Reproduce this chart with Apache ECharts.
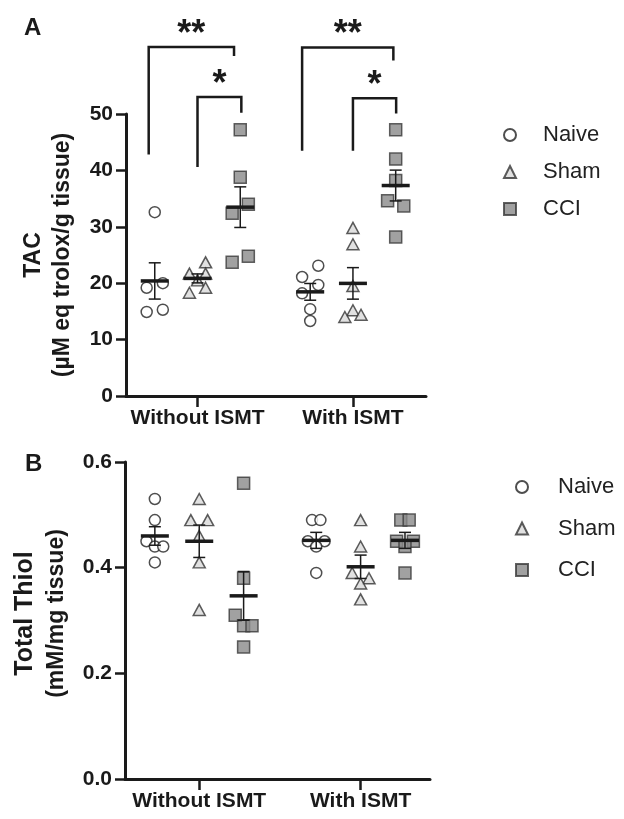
<!DOCTYPE html>
<html>
<head>
<meta charset="utf-8">
<script src="https://cdn.jsdelivr.net/npm/echarts@6/dist/echarts.min.js"></script>
<style>
  html, body { margin: 0; padding: 0; background: #fff; }
  #chart { width: 624px; height: 819px; }
</style>
</head>
<body>
<div id="chart"></div>
<script>
const categories = ['Without ISMT', 'With ISMT'];
const groups = ['Naive', 'Sham', 'CCI'];

// TAC values, [without ISMT, with ISMT]
const tacNaive = [[32.6, 19.2, 20.0, 14.9, 15.3], [21.1, 23.1, 19.7, 18.2, 15.4, 13.3]];
const tacSham = [[21.7, 20.5, 23.7, 21.7, 18.3, 19.2], [29.8, 26.9, 19.5, 15.2, 14.0, 14.4]];
const tacCci = [[47.2, 38.8, 34.0, 32.4, 23.7, 24.8], [47.2, 42.0, 38.2, 34.6, 33.7, 28.2]];

// Total thiol values, [without ISMT, with ISMT]
const thiolNaive = [[0.53, 0.49, 0.45, 0.44, 0.44, 0.41], [0.49, 0.49, 0.45, 0.45, 0.44, 0.39]];
const thiolSham = [[0.53, 0.49, 0.49, 0.46, 0.41, 0.32], [0.49, 0.44, 0.39, 0.38, 0.37, 0.34]];
const thiolCci = [[0.56, 0.38, 0.31, 0.29, 0.29, 0.25], [0.49, 0.49, 0.45, 0.45, 0.44, 0.39]];

// horizontal jitter of each dot (in dot widths)
const tacNaiveJit = [[0, -1, 1, -1, 1], [-1, 1, 1, -1, 0, 0]];
const tacShamJit = [[-1, 0, 1, 1, -1, 1], [0, 0, 0, 0, -1, 1]];
const tacCciJit = [[0, 0, 1, -1, -1, 1], [0, 0, 0, -1, 1, 0]];
const thiolNaiveJit = [[0, 0, -1, 0, 1, 0], [-0.5, 0.5, -1, 1, 0, 0]];
const thiolShamJit = [[0, -1, 1, 0, 0, 0], [0, 0, -1, 1, 0, 0]];
const thiolCciJit = [[0, 0, -1, 0, 1, 0], [-0.5, 0.5, -1, 1, 0, 0]];

// significance brackets on TAC: [x left, x right, top, left foot, right foot]
const tacBrackets = [
  [0.686, 1.235, 61.9, 42.8, 60.3],
  [1.0, 1.282, 53.0, 40.6, 50.2],
  [1.673, 2.26, 61.8, 43.5, 59.5],
  [2.0, 2.278, 52.8, 43.5, 50.1]
];
const tacStars = ['**', '*', '**', '*'];

const condPos = [1, 2];
const groupOffset = [-0.275, 0, 0.275];
const jitterStep = 0.052;

const font = "'Liberation Sans', Arial, sans-serif";
const ink = '#1a1a1a';

function dots(values, jit, g) {
  const out = [];
  values.forEach((cond, c) => {
    cond.forEach((v, i) => out.push([condPos[c] + groupOffset[g] + jit[c][i] * jitterStep, v]));
  });
  return out;
}

function meanSem(arr) {
  const n = arr.length;
  const m = arr.reduce((a, b) => a + b, 0) / n;
  const sd = Math.sqrt(arr.reduce((a, b) => a + (b - m) * (b - m), 0) / (n - 1));
  return [m, sd / Math.sqrt(n)];
}

function summary(sets) {
  const out = [];
  sets.forEach((vals, g) => {
    vals.forEach((cond, c) => {
      const s = meanSem(cond);
      out.push([condPos[c] + groupOffset[g], s[0], s[1]]);
    });
  });
  return out;
}

function renderMeanSem(params, api) {
  const x = api.value(0), m = api.value(1), s = api.value(2);
  const c = api.coord([x, m]);
  const hi = api.coord([x, m + s]);
  const lo = api.coord([x, m - s]);
  const thin = { stroke: ink, lineWidth: 1.5 };
  return {
    type: 'group',
    children: [
      { type: 'line', shape: { x1: c[0], y1: hi[1], x2: c[0], y2: lo[1] }, style: thin },
      { type: 'line', shape: { x1: c[0] - 6, y1: hi[1], x2: c[0] + 6, y2: hi[1] }, style: thin },
      { type: 'line', shape: { x1: c[0] - 6, y1: lo[1], x2: c[0] + 6, y2: lo[1] }, style: thin },
      { type: 'line', shape: { x1: c[0] - 14, y1: c[1], x2: c[0] + 14, y2: c[1] }, style: { stroke: ink, lineWidth: 3.5 } }
    ]
  };
}

function renderBracket(params, api) {
  const x1 = api.value(0), x2 = api.value(1), yt = api.value(2);
  const pl = api.coord([x1, api.value(3)]);
  const plt = api.coord([x1, yt]);
  const prt = api.coord([x2, yt]);
  const pr = api.coord([x2, api.value(4)]);
  return {
    type: 'group',
    children: [
      { type: 'polyline', shape: { points: [pl, plt, prt, pr] }, style: { stroke: ink, lineWidth: 2.5, fill: null } },
      {
        type: 'text', x: (plt[0] + prt[0]) / 2, y: plt[1] - 12,
        style: { text: tacStars[params.dataIndex], fontSize: 36, fontWeight: 'bold', fontFamily: font, fill: ink, align: 'center', verticalAlign: 'middle' }
      }
    ]
  };
}

const markerStyles = [
  { symbol: 'circle', symbolSize: 11, itemStyle: { color: '#ffffff', borderColor: '#222', borderWidth: 1.5 } },
  { symbol: 'triangle', symbolSize: [12, 11], itemStyle: { color: '#d9d9d9', borderColor: '#333', borderWidth: 1.5 } },
  { symbol: 'rect', symbolSize: 12, itemStyle: { color: '#8a8a8a', borderColor: '#3a3a3a', borderWidth: 1.5 } }
];

function scatterSeries(panel, sets, jits) {
  return sets.map((vals, g) => Object.assign({
    name: groups[g],
    type: 'scatter',
    xAxisIndex: panel,
    yAxisIndex: panel,
    z: 3,
    silent: true,
    data: dots(vals, jits[g], g)
  }, markerStyles[g]));
}

function xAxisFor(panel, min, max) {
  return {
    type: 'value', gridIndex: panel, min: min, max: max,
    axisLine: { show: true, onZero: false, lineStyle: { color: ink, width: 3 } },
    axisTick: { show: true, customValues: condPos, length: 11, lineStyle: { color: ink, width: 2.5 } },
    axisLabel: {
      customValues: condPos, margin: 12, fontSize: 21, fontWeight: 'bold', fontFamily: font, color: ink,
      formatter: v => categories[Math.round(v) - 1]
    },
    splitLine: { show: false }
  };
}

function yAxisFor(panel, max, interval, name, rich, gap, pad, fmt) {
  return {
    type: 'value', gridIndex: panel, min: 0, max: max, interval: interval,
    axisLine: { show: true, lineStyle: { color: ink, width: 3 } },
    axisTick: { show: true, length: 10, lineStyle: { color: ink, width: 2.5 } },
    axisLabel: { margin: 13, fontSize: 21, fontWeight: 'bold', fontFamily: font, color: ink, formatter: fmt },
    splitLine: { show: false },
    name: name, nameLocation: 'middle', nameRotate: 90, nameGap: gap,
    nameTextStyle: { rich: rich, padding: pad, fontFamily: font }
  };
}

function legendFor(left, top, gap, padLeft) {
  return {
    data: groups, orient: 'vertical', left: left, top: top,
    itemWidth: 12, itemHeight: 12, itemGap: gap, selectedMode: false,
    textStyle: { fontSize: 22, fontFamily: font, color: '#222', lineHeight: 22, padding: [0, 0, 0, padLeft] }
  };
}

const chart = echarts.init(document.getElementById('chart'), null, { renderer: 'canvas' });
chart.setOption({
  animation: false,
  backgroundColor: '#fff',
  graphic: [
    { type: 'text', left: 24, top: 16, style: { text: 'A', fontSize: 24, fontWeight: 'bold', fontFamily: font, fill: ink } },
    { type: 'text', left: 25, top: 452, style: { text: 'B', fontSize: 24, fontWeight: 'bold', fontFamily: font, fill: ink } }
  ],
  legend: [legendFor(498, 119, 15, 22), legendFor(510, 471, 19.5, 25)],
  grid: [
    { left: 126, top: 114, width: 300, height: 282, outerBoundsMode: 'none' },
    { left: 125, top: 462, width: 305, height: 317, outerBoundsMode: 'none' }
  ],
  xAxis: [xAxisFor(0, 0.54, 2.47), xAxisFor(1, 0.54, 2.43)],
  yAxis: [
    yAxisFor(0, 50, 10, '{a|TAC}\n{b|(µM eq trolox/g tissue)}', {
      a: { fontSize: 23, fontWeight: 'bold', fontFamily: font, color: ink, lineHeight: 29 },
      b: { fontSize: 23, fontWeight: 'bold', fontFamily: font, color: ink, lineHeight: 29 }
    }, 49, [0, 0, 0, 0], v => v),
    yAxisFor(1, 0.6, 0.2, '{a|Total Thiol}\n{b|(mM/mg tissue)}', {
      a: { fontSize: 25, fontWeight: 'bold', fontFamily: font, color: ink, lineHeight: 32 },
      b: { fontSize: 23, fontWeight: 'bold', fontFamily: font, color: ink, lineHeight: 32 }
    }, 52, [0, 0, 0, 14], v => v.toFixed(1))
  ],
  series: [
    ...scatterSeries(0, [tacNaive, tacSham, tacCci], [tacNaiveJit, tacShamJit, tacCciJit]),
    {
      type: 'custom', xAxisIndex: 0, yAxisIndex: 0, z: 4, silent: true,
      renderItem: renderMeanSem, encode: { x: 0, y: [1, 2] },
      data: summary([tacNaive, tacSham, tacCci])
    },
    {
      type: 'custom', xAxisIndex: 0, yAxisIndex: 0, z: 4, silent: true, clip: false,
      renderItem: renderBracket, encode: { x: [0, 1], y: [2, 3, 4] },
      data: tacBrackets
    },
    ...scatterSeries(1, [thiolNaive, thiolSham, thiolCci], [thiolNaiveJit, thiolShamJit, thiolCciJit]),
    {
      type: 'custom', xAxisIndex: 1, yAxisIndex: 1, z: 4, silent: true,
      renderItem: renderMeanSem, encode: { x: 0, y: [1, 2] },
      data: summary([thiolNaive, thiolSham, thiolCci])
    }
  ]
});
</script>
</body>
</html>
